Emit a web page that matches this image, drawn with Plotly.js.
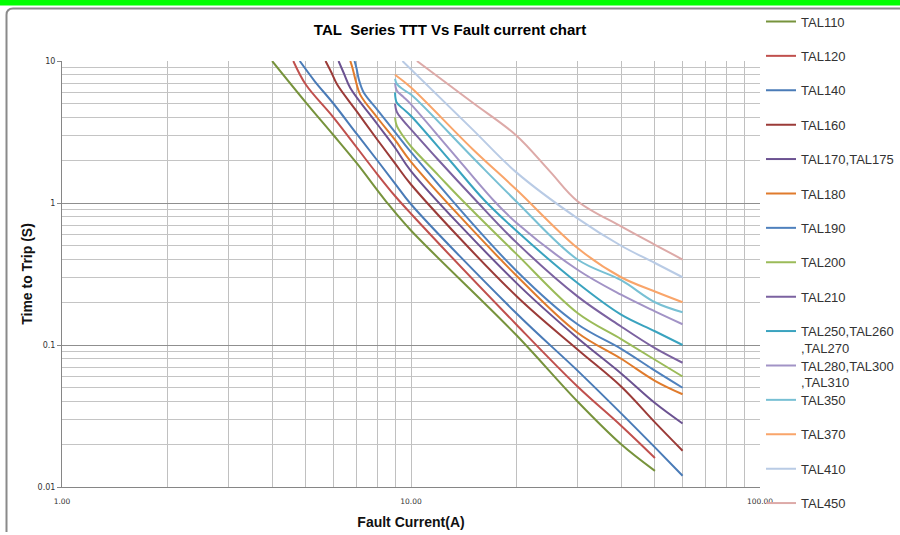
<!DOCTYPE html>
<html>
<head>
<meta charset="utf-8">
<script src="https://cdn.plot.ly/plotly-3.0.1.min.js"></script>
<style>
html,body{margin:0;padding:0;background:#ffffff;}
#chart{width:900px;height:535px;}
</style>
</head>
<body>
<div id="chart"></div>
<script>
// ---------- data ----------
const seriesNames = ['TAL110','TAL120','TAL140','TAL160','TAL170,TAL175','TAL180','TAL190','TAL200','TAL210',
  'TAL250,TAL260<br>,TAL270','TAL280,TAL300<br>,TAL310','TAL350','TAL370','TAL410','TAL450'];

const tal110_x = [4, 5, 6, 7, 8.5, 10, 20, 30, 40, 50];
const tal110_y = [10, 5.1, 3.0, 1.9, 1.02, 0.64, 0.118, 0.04, 0.02, 0.013];

const tal120_x = [4.6, 5, 6, 8, 9, 10, 20, 30, 40, 50];
const tal120_y = [10, 6.8, 4.0, 1.6, 1.12, 0.84, 0.14, 0.051, 0.027, 0.016];

const tal140_x = [4.8, 5.3, 6, 7, 8, 9, 10, 20, 30, 40, 50, 60];
const tal140_y = [10, 7.2, 5.0, 3.05, 2.0, 1.37, 0.98, 0.168, 0.066, 0.033, 0.019, 0.012];

const tal160_x = [5.69, 5.9, 6.15, 7, 8, 9, 10, 20, 30, 40, 50, 60];
const tal160_y = [10, 8.4, 6.8, 4.4, 2.8, 1.9, 1.35, 0.222, 0.093, 0.051, 0.0285, 0.018];

const tal170_x = [6.2, 6.42, 6.7, 8, 9, 10, 20, 30, 40, 50, 60];
const tal170_y = [10, 8.2, 6.45, 3.6, 2.45, 1.68, 0.275, 0.112, 0.063, 0.039, 0.028];

const tal180_x = [6.7, 6.8, 6.95, 7.15, 8, 9, 10, 20, 30, 40, 50, 60];
const tal180_y = [10, 8.9, 7.2, 5.8, 4.0, 2.78, 1.95, 0.31, 0.122, 0.08, 0.056, 0.045];

const tal190_x = [6.89, 6.98, 7.09, 7.32, 8, 9, 10, 20, 30, 40, 50, 60];
const tal190_y = [10, 8.9, 7.4, 6.0, 4.55, 3.16, 2.28, 0.335, 0.14, 0.094, 0.066, 0.05];

const tal200_x = [9, 9.1, 9.5, 10, 12, 14, 20, 30, 40, 50, 60];
const tal200_y = [4.0, 3.5, 2.95, 2.5, 1.56, 1.05, 0.44, 0.168, 0.11, 0.0787, 0.06];

const tal210_x = [9, 9.1, 9.5, 10, 12, 15.3, 20, 30, 40, 50, 60];
const tal210_y = [5.0, 4.4, 3.8, 3.3, 2.0, 1.05, 0.53, 0.22, 0.135, 0.095, 0.075];

const tal250_x = [9, 9.1, 9.5, 10, 13, 16.2, 20, 30, 40, 50, 60];
const tal250_y = [6.0, 5.1, 4.6, 4.1, 1.96, 1.05, 0.64, 0.273, 0.1635, 0.125, 0.1];

const tal280_x = [9, 9.1, 9.5, 10, 13, 17.2, 20, 30, 40, 50, 60];
const tal280_y = [7.0, 6.2, 5.6, 4.95, 2.34, 1.05, 0.73, 0.339, 0.226, 0.1725, 0.14];

const tal350_x = [9, 9.1, 9.5, 10, 15, 20, 30, 40, 50, 60];
const tal350_y = [7.5, 6.9, 6.3, 5.8, 2.1, 1.03, 0.4, 0.286, 0.2, 0.17];

const tal370_x = [9, 10, 15, 20, 30, 40, 50, 60];
const tal370_y = [8.0, 6.5, 2.4, 1.25, 0.482, 0.3, 0.238, 0.2];

const tal410_x = [9.45, 15, 20, 30, 40, 50, 60];
const tal410_y = [10, 3.3, 1.65, 0.78, 0.5, 0.378, 0.3];

const tal450_x = [10.4, 15, 20, 25, 30, 40, 50, 60];
const tal450_y = [10, 5.1, 3.0, 1.67, 1.03, 0.684, 0.508, 0.4];

const xTickVals = [1, 10, 100];
const xTickText = ['1.00', '10.00', '100.00'];
const xMinorVals = [2,3,4,5,6,7,8,9,20,30,40,50,60,70,80,90];
const yTickVals = [0.01, 0.1, 1, 10];
const yTickText = ['0.01', '0.1', '1', '10'];
const yMinorVals = [0.02,0.03,0.04,0.05,0.06,0.07,0.08,0.09,0.2,0.3,0.4,0.5,0.6,0.7,0.8,0.9,2,3,4,5,6,7,8,9];

// ---------- styling ----------
const seriesColors = ['#77933C','#C0504D','#4A7BB7','#9B3B38','#6B5291','#E07B2C','#4F81BD','#9BBB59','#7B62A0',
  '#3AA3BF','#A293C6','#78C0D4','#F9A56A','#B9CBE5','#DDAAA8'];

const xs = [tal110_x,tal120_x,tal140_x,tal160_x,tal170_x,tal180_x,tal190_x,tal200_x,tal210_x,tal250_x,tal280_x,tal350_x,tal370_x,tal410_x,tal450_x];
const ys = [tal110_y,tal120_y,tal140_y,tal160_y,tal170_y,tal180_y,tal190_y,tal200_y,tal210_y,tal250_y,tal280_y,tal350_y,tal370_y,tal410_y,tal450_y];

const W = 900, H = 535, ML = 62, MR = 140, MT = 61, MB = 48;
const PW = W - ML - MR, PH = H - MT - MB;
const px2x = p => (p - ML) / PW;
const py2y = p => (H - MB - p) / PH;

const legendFont = {family: '"Liberation Sans", Arial, sans-serif', size: 13, color: '#333333'};
const traces = [];
const layout = {
  width: W, height: H,
  margin: {l: ML, r: MR, t: MT, b: MB, autoexpand: false},
  paper_bgcolor: '#ffffff', plot_bgcolor: '#ffffff',
  showlegend: true,
  title: {
    text: 'TAL&nbsp; Series TTT Vs Fault current chart',
    x: 0.5, xref: 'container', xanchor: 'center',
    y: 1 - 30 / H, yref: 'container', yanchor: 'middle',
    font: {family: '"Liberation Sans", Arial, sans-serif', size: 15, color: '#000000', weight: 'bold'}
  },
  xaxis: {
    type: 'log', range: [0, 2], tickmode: 'array', tickvals: xTickVals, ticktext: xTickText,
    ticks: '', showgrid: true, gridcolor: '#C0C0C0', gridwidth: 1, zeroline: false,
    showline: true, linecolor: '#868686', linewidth: 1,
    minor: {tickmode: 'array', tickvals: xMinorVals, showgrid: true, gridcolor: '#C0C0C0', gridwidth: 1, ticks: ''},
    tickfont: {family: '"DejaVu Sans", sans-serif', size: 7.5, color: '#333333'},
    ticklabelstandoff: 7,
    title: {text: 'Fault Current(A)', standoff: 12,
      font: {family: '"Liberation Sans", Arial, sans-serif', size: 14, color: '#111111', weight: 'bold'}}
  },
  yaxis: {
    type: 'log', range: [-2, 1], tickmode: 'array', tickvals: yTickVals, ticktext: yTickText,
    ticks: 'outside', ticklen: 4, tickcolor: '#868686', tickwidth: 1,
    showgrid: true, gridcolor: '#8F8F8F', gridwidth: 1, zeroline: false,
    showline: true, linecolor: '#868686', linewidth: 1,
    minor: {tickmode: 'array', tickvals: yMinorVals, showgrid: true, gridcolor: '#C4C4C4', gridwidth: 1, ticks: ''},
    tickfont: {family: '"DejaVu Sans", sans-serif', size: 8, color: '#333333'},
    title: {text: 'Time to Trip (S)', standoff: 1,
      font: {family: '"Liberation Sans", Arial, sans-serif', size: 14, color: '#111111', weight: 'bold'}}
  },
  shapes: [
    {type: 'rect', xref: 'paper', yref: 'paper', x0: px2x(-2), x1: px2x(902), y0: py2y(5.5), y1: py2y(-2),
     fillcolor: '#00FF00', line: {width: 0}, layer: 'above'},
    {type: 'path', xref: 'paper', yref: 'paper',
     path: 'M' + px2x(902) + ',' + py2y(8.5) + ' L' + px2x(13) + ',' + py2y(8.5) +
           ' Q' + px2x(6.5) + ',' + py2y(8.5) + ' ' + px2x(6.5) + ',' + py2y(15) +
           ' L' + px2x(6.5) + ',' + py2y(532),
     line: {color: '#8A8A8A', width: 2}, layer: 'above'}
  ]
};

const legendTop = 21.5, legendStep = 34.4;
for (let i = 0; i < xs.length; i++) {
  const key = i === 0 ? 'legend' : 'legend' + (i + 1);
  const multi = seriesNames[i].indexOf('<br>') >= 0;
  const yc = legendTop + legendStep * i + (multi ? 8.5 : 0);
  layout[key] = {
    x: px2x(761), xanchor: 'left', y: py2y(yc), yanchor: 'middle',
    bgcolor: 'rgba(0,0,0,0)', borderwidth: 0, font: legendFont,
    itemwidth: 30, valign: 'top', tracegroupgap: 0
  };
  traces.push({
    type: 'scatter', mode: 'lines', name: seriesNames[i], legend: key,
    x: xs[i], y: ys[i],
    line: {color: seriesColors[i], width: 2, shape: 'spline', smoothing: 1},
    hoverinfo: 'skip'
  });
}

Plotly.newPlot('chart', traces, layout, {displayModeBar: false, staticPlot: true});
</script>
</body>
</html>
